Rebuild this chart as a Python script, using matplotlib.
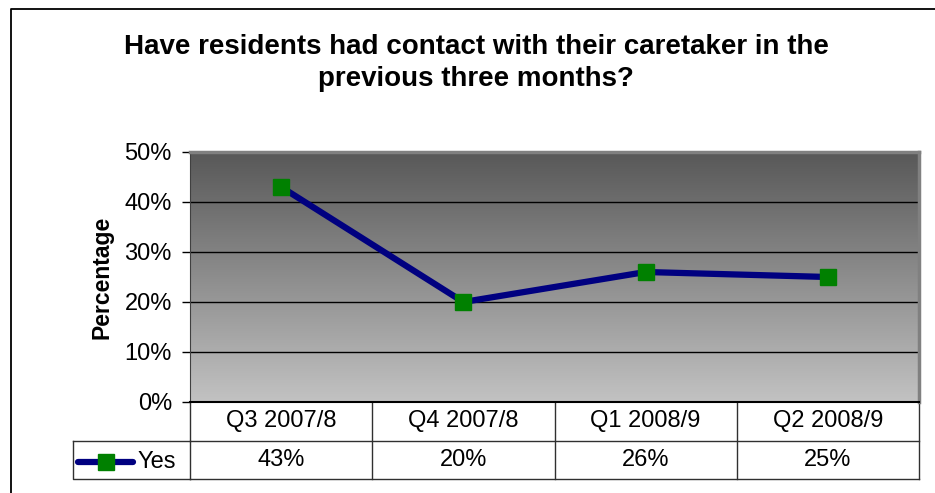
import numpy as np
import matplotlib
matplotlib.use('Agg')
import matplotlib.pyplot as plt
from matplotlib.lines import Line2D
from matplotlib.transforms import blended_transform_factory

plt.rcParams['font.family'] = ['Liberation Sans', 'DejaVu Sans']

# ---- data ----
quarters = ['Q3 2007/8', 'Q4 2007/8', 'Q1 2008/9', 'Q2 2008/9']
yes_pct = [43, 20, 26, 25]
series_name = 'Yes'
yticks = [0, 10, 20, 30, 40, 50]

W, H = 935, 493
LINE = '#000080'
MARK = '#008000'
GRID = '#808080'


def fx(px):
    return px / W


def fy(py):
    return 1 - py / H


fig = plt.figure(figsize=(W / 100, H / 100), dpi=100, facecolor='white')

# outer chart border (top + left visible)
fig.add_artist(Line2D([fx(11), fx(11), fx(935)], [fy(493), fy(9), fy(9)],
                      color='black', lw=1.3))

# title
fig.text(fx(476), fy(63), 'Have residents had contact with their caretaker in the\nprevious three months?',
         ha='center', va='center', fontsize=20, fontweight='bold', linespacing=1.32)

# plot area
L, T, R, B = 190, 152, 919, 402
ax = fig.add_axes([fx(L), fy(B), fx(R - L), (B - T) / H])

# gradient background
grad = np.linspace(0, 1, 256).reshape(-1, 1)
top = np.array([88, 88, 88]) / 255
bot = np.array([194, 194, 194]) / 255
img = top + (bot - top) * grad[..., None]
ax.imshow(img.reshape(256, 1, 3), extent=[0, 1, 0, 1], transform=ax.transAxes,
          aspect='auto', zorder=0)

x = np.arange(len(quarters))
ax.set_xlim(-0.5, len(quarters) - 0.5)
ax.set_ylim(0, 50)
ax.set_yticks(yticks)
ax.set_yticklabels([f'{v}%' for v in yticks], fontsize=17)
ax.set_xticks([])
ax.tick_params(axis='y', direction='out', length=6, width=1, pad=7)
for v in yticks[1:-1]:
    ax.axhline(v, color='black', lw=1, zorder=1)

for s in ['top', 'right']:
    ax.spines[s].set_color(GRID)
    ax.spines[s].set_linewidth(2.5)
ax.spines['left'].set_color('#404040')
ax.spines['bottom'].set_color('black')
ax.spines['bottom'].set_linewidth(1.5)

ax.plot(x, yes_pct, color=LINE, lw=4.5, marker='s', markersize=11,
        markerfacecolor=MARK, markeredgecolor=MARK, zorder=3, clip_on=False)

ax.set_ylabel('Percentage', fontsize=16.5, fontweight='bold', labelpad=8)

# data table under the axis
tr = blended_transform_factory(ax.transData, ax.transAxes)
r1 = -39 / (B - T)
r2 = -77 / (B - T)
tc = '#303030'
for i in range(len(quarters) + 1):
    ax.plot([i - 0.5, i - 0.5], [0, r2], color=tc, lw=1, transform=tr, clip_on=False)
ax.plot([-0.5, len(quarters) - 0.5], [r1, r1], color=tc, lw=1, transform=tr, clip_on=False)
ax.plot([-0.5, len(quarters) - 0.5], [r2, r2], color=tc, lw=1, transform=tr, clip_on=False)
for i, (q, v) in enumerate(zip(quarters, yes_pct)):
    ax.text(i, r1 / 2, q, transform=tr, ha='center', va='center', fontsize=17)
    ax.text(i, (r1 + r2) / 2, f'{v}%', transform=tr, ha='center', va='center', fontsize=17)

# legend cell
fig.add_artist(Line2D([fx(73), fx(73), fx(L)], [fy(441), fy(479), fy(479)],
                      color=tc, lw=1))
fig.add_artist(Line2D([fx(73), fx(L)], [fy(441), fy(441)], color=tc, lw=1))
fig.add_artist(Line2D([fx(78), fx(133)], [fy(462), fy(462)], color=LINE, lw=4.5,
                      solid_capstyle='round'))
fig.add_artist(Line2D([fx(105.5)], [fy(462)], color=MARK, marker='s',
                      markersize=11, markeredgecolor=MARK))
fig.text(fx(137), fy(462), series_name, ha='left', va='center', fontsize=17)

fig.savefig('out.png', dpi=100, facecolor='white')
